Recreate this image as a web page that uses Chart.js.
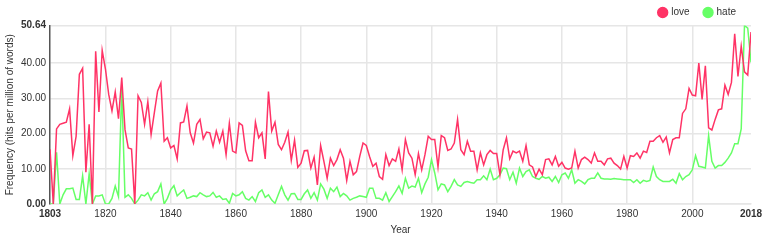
<!DOCTYPE html>
<html>
<head>
<meta charset="utf-8">
<script src="https://cdn.jsdelivr.net/npm/chart.js@4/dist/chart.umd.min.js"></script>
<style>
  html, body { margin: 0; padding: 0; background: #fff; }
  #wrap { width: 768px; height: 244px; position: relative; }
</style>
</head>
<body>
<div id="wrap"><canvas id="myChart"></canvas></div>
<script>
var firstYear = 1803;

// love, 1803..2018
var love = [
  15.5, 0, 21.3, 22.6, 22.9, 23.2, 27, 13.7, 19.2, 36.8, 38.5, 9, 22.6, 0, 43.3, 26.1, 43.6,   // 1803-1819
  38.3, 31.1, 26.4, 31.8, 24.2, 35.9, 21.1, 15.9, 15.6, 0,       // 1820s
  30.7, 28.8, 22.6, 29, 19.7, 25.9, 32.1, 34.3, 17.8, 18.8,      // 1830s
  15.9, 16.6, 12.8, 23, 23.3, 27.8, 20.2, 17.3, 22.6, 24,        // 1840s
  18.5, 20.4, 20.2, 16.4, 20.7, 17.5, 20.7, 14, 22.9, 15,        // 1850s
  14.5, 23, 22.3, 15.1, 12.3, 12.3, 23.2, 18.8, 20.2, 12.8,      // 1860s
  31.9, 20.7, 23.2, 16.9, 15.4, 17.5, 20.4, 12.4, 18.1, 10.4,    // 1870s
  11.6, 15.1, 15.2, 10.2, 13.3, 5.4, 16.6, 12.1, 7.3, 13,        // 1880s
  10.9, 12.6, 15.4, 13, 6.7, 12.1, 8.3, 9.2, 13.5, 17.3,         // 1890s
  16.6, 13.5, 10.7, 11.6, 7.8, 7, 14, 10.9, 12.8, 12.1,          // 1900s
  15.6, 9.7, 18.3, 14.5, 13, 8.3, 14.3, 9.7, 14, 19.2,           // 1910s
  18.3, 18.3, 10.5, 19.4, 18.8, 15.2, 15.6, 17.3, 24, 15.4,      // 1920s
  14, 17.8, 15, 15, 9.7, 14.5, 11.1, 14, 15.2, 14.3,             // 1930s
  14.3, 8.3, 15.4, 18.8, 12.8, 15, 14.5, 15, 12.1, 16.6,         // 1940s
  11.1, 10.5, 7.8, 9.9, 8.3, 12.6, 12.8, 11.1, 13.5, 10.7,       // 1950s
  11.8, 10.2, 9.9, 10.2, 15, 10.2, 12.6, 13.3, 12.6, 11.6,       // 1960s
  14.5, 12.1, 12.1, 11.1, 12.8, 13, 11.6, 10.9, 9.9, 13.5,       // 1970s
  10.2, 13.7, 13.5, 14.5, 13, 15, 14.6, 17.8, 17.8, 18.8,        // 1980s
  19.4, 17.5, 19, 14.5, 18.3, 18.8, 18.8, 25.7, 27, 32.8,        // 1990s
  30.9, 30.7, 40, 29.7, 39.2, 21.6, 21, 24, 26.7, 27,            // 2000s
  33.7, 31.1, 34.5, 48.3, 36.2, 44.8, 37.5, 36.6, 48.8           // 2010-2018
];

// hate, 1803..2018
var hate = [
  0, 0, 14.7, 0, 2.6, 4.3, 4.3, 4.5, 1.3, 1.3, 8, 0, 8.6, 0, 2.3, 2.3, 2.6,   // 1803-1819
  0, 0, 1.6, 5.1, 2.1, 32.8, 1.9, 2.6, 1.6, 0,
  1.1, 2.6, 2.3, 3.2, 1.1, 2.9, 3.5, 5.7, 0, 1.6,
  4, 5.2, 2.3, 3.2, 4, 1.6, 1.9, 2.3, 2.1, 3.2,
  2.6, 2.1, 2.3, 3.3, 1.9, 2.3, 1.3, 1.5, 0.2, 3,
  2.3, 2.6, 3.5, 1.6, 1.1, 2.1, 0.7, 3.2, 4, 1.9,
  2.6, 1.1, 0.2, 2.6, 5, 2.6, 1.1, 2.9, 3, 1.3,
  1.3, 2.9, 4, 1.6, 3.2, 1.1, 5.7, 4.2, 1.6, 4.5,
  3.5, 4.8, 2.1, 3, 2.3, 1.1, 1.6, 1.9, 2.3, 2.1,
  1.9, 4.5, 4.5, 1.6, 1.6, 1.1, 3.2, 0.7, 2.1, 3.5,
  5.1, 3, 7.3, 4.5, 5.1, 4.8, 7.3, 3.2, 5.7, 7.6,
  12.6, 8.8, 4, 5.7, 5.4, 3.5, 5, 6.9, 5.4, 5,
  6.1, 6.4, 6.1, 5.9, 6.9, 6.9, 8, 6.9, 9.9, 6.9,
  7.3, 8.3, 10.2, 10, 6.9, 9, 5.9, 10.2, 7.8, 9.2,
  9.7, 7.8, 7.3, 7, 7.8, 7.3, 7.6, 6.4, 7.8, 6.1,
  8.3, 8.8, 7.3, 9.7, 5.9, 6.9, 6.4, 5.7, 6.9, 7.3,
  7.3, 8.8, 7.3, 7.1, 7.1, 7, 7.2, 7.1, 7, 6.9,
  6.9, 6.9, 6.1, 6.9, 5.9, 6.7, 6.4, 6.7, 10.5, 7.8,
  6.9, 6.4, 6.4, 6.4, 7, 5.9, 8.6, 6.9, 7.8, 8.3,
  9.7, 13.7, 10.7, 10.5, 10.2, 19.4, 12.1, 10.2, 10.9, 10.9,
  11.8, 13, 14.5, 17.1, 17.1, 21.3, 50.64, 49.9, 40.2
];

var xTicks = [1803, 1820, 1840, 1860, 1880, 1900, 1920, 1940, 1960, 1980, 2000, 2018];
var yTicks = [0, 10, 20, 30, 40, 50.64];

var years = love.map(function (v, i) { return firstYear + i; });

function toPoints(values) {
    return values.map(function (v, i) { return { x: years[i], y: v }; });
}

var fontFamily = "'Liberation Sans', Arial, sans-serif";
var textColor = '#333';
var gridColor = '#e6e6e6';

// first and last tick of each axis are drawn bold
function edgeFont(list) {
    return function (c) {
        var v = c.tick ? c.tick.value : null;
        var edge = v === list[0] || v === list[list.length - 1];
        return { family: fontFamily, size: 10, weight: edge ? 'bold' : 'normal' };
    };
}

var ctx = document.getElementById('myChart').getContext('2d');
var myChart = new Chart(ctx, {
    type: 'line',
    data: {
        datasets: [{
            label: 'love',
            data: toPoints(love),
            borderColor: 'rgb(255, 51, 102)',
            backgroundColor: 'rgb(255, 51, 102)',
            borderWidth: 1.5,
            pointRadius: 0,
            tension: 0
        }, {
            label: 'hate',
            data: toPoints(hate),
            borderColor: 'rgb(102, 255, 102)',
            backgroundColor: 'rgb(102, 255, 102)',
            borderWidth: 1.5,
            pointRadius: 0,
            tension: 0
        }]
    },
    options: {
        responsive: true,
        maintainAspectRatio: false,
        animation: false,
        // negative top pulls the legend row up; maxHeight below sets where the plot starts
        layout: { padding: { left: 2, right: 17, top: -7.5, bottom: 8 } },
        plugins: {
            tooltip: { enabled: false },
            legend: {
                position: 'top',
                align: 'end',
                maxHeight: 33,
                labels: {
                    usePointStyle: true,
                    pointStyle: 'circle',
                    boxWidth: 7,
                    boxHeight: 7,
                    padding: 15,
                    color: textColor,
                    font: { family: fontFamily, size: 10 }
                }
            }
        },
        scales: {
            x: {
                type: 'linear',
                min: firstYear,
                max: 2018,
                afterBuildTicks: function (scale) {
                    scale.ticks = xTicks.map(function (v) { return { value: v }; });
                },
                ticks: {
                    autoSkip: false,
                    maxRotation: 0,
                    padding: 4,
                    color: textColor,
                    font: edgeFont(xTicks),
                    callback: function (v) { return String(v); }
                },
                grid: {
                    drawTicks: false,
                    lineWidth: 1.5,
                    color: function (c) {
                        var v = c.tick ? c.tick.value : null;
                        return (v === 1803 || v === 2018) ? 'rgba(0,0,0,0)' : gridColor;
                    }
                },
                border: { color: gridColor, width: 1.5 },
                title: {
                    display: true,
                    text: 'Year',
                    color: textColor,
                    padding: { top: 0, bottom: 0 },
                    font: { family: fontFamily, size: 10 }
                }
            },
            y: {
                min: 0,
                max: 50.64,
                afterBuildTicks: function (scale) {
                    scale.ticks = yTicks.map(function (v) { return { value: v }; });
                },
                ticks: {
                    autoSkip: false,
                    padding: 4,
                    color: textColor,
                    font: edgeFont(yTicks),
                    callback: function (v) { return Number(v).toFixed(2); }
                },
                grid: { drawTicks: false, lineWidth: 1.5, color: gridColor },
                border: { color: '#555', width: 1.5 },
                title: {
                    display: true,
                    text: 'Frequency (hits per million of words)',
                    color: textColor,
                    padding: { top: 2, bottom: 1 },
                    font: { family: fontFamily, size: 10 }
                }
            }
        }
    }
});
</script>
</body>
</html>
